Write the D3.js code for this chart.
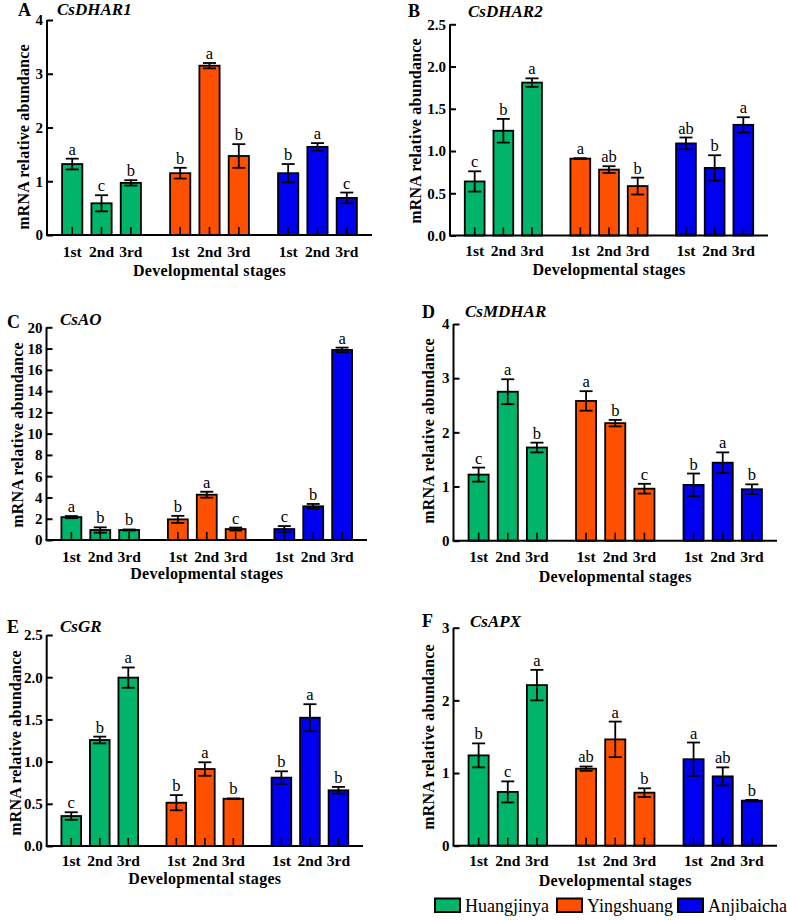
<!DOCTYPE html>
<html>
<head>
<meta charset="utf-8">
<script src="https://cdn.jsdelivr.net/npm/d3@7"></script>
<style>
  body { margin: 0; background: #fff; }
  svg { display: block; font-family: "Liberation Serif", "Times New Roman", serif; }
</style>
</head>
<body>
<svg id="chart" width="787" height="920"></svg>
<script>
// ---- data ----
const cultivars = ["Huangjinya", "Yingshuang", "Anjibaicha"];
const stages = ["1st", "2nd", "3rd"];
const colors = ["#00B46A", "#FF5000", "#0000F0"];

const genes = ["CsDHAR1", "CsDHAR2", "CsAO", "CsMDHAR", "CsGR", "CsAPX"];
const panelLetters = ["A", "B", "C", "D", "E", "F"];

// mean values: [Huangjinya x3, Yingshuang x3, Anjibaicha x3]
const meanDHAR1 = [1.32, 0.59, 0.97, 1.15, 3.15, 1.47, 1.15, 1.64, 0.69];
const errDHAR1  = [0.10, 0.15, 0.05, 0.10, 0.05, 0.22, 0.17, 0.07, 0.10];
const sigDHAR1  = ["a", "c", "b", "b", "a", "b", "b", "a", "c"];

const meanDHAR2 = [0.64, 1.24, 1.81, 0.91, 0.78, 0.585, 1.09, 0.80, 1.31];
const errDHAR2  = [0.12, 0.14, 0.05, 0.005, 0.04, 0.10, 0.07, 0.15, 0.09];
const sigDHAR2  = ["c", "b", "a", "a", "ab", "b", "ab", "b", "a"];

const meanAO = [2.15, 0.94, 0.94, 1.94, 4.26, 1.03, 1.03, 3.17, 17.87];
const errAO  = [0.10, 0.25, 0.05, 0.33, 0.28, 0.14, 0.28, 0.22, 0.22];
const sigAO  = ["a", "b", "b", "b", "a", "c", "c", "b", "a"];

const meanMDHAR = [1.22, 2.75, 1.72, 2.58, 2.17, 0.96, 1.03, 1.44, 0.95];
const errMDHAR  = [0.13, 0.23, 0.09, 0.18, 0.06, 0.09, 0.21, 0.19, 0.09];
const sigMDHAR  = ["c", "a", "b", "a", "b", "c", "b", "a", "b"];

const meanGR = [0.355, 1.256, 1.995, 0.513, 0.912, 0.56, 0.81, 1.52, 0.66];
const errGR  = [0.045, 0.04, 0.12, 0.09, 0.08, 0.003, 0.075, 0.16, 0.04];
const sigGR  = ["c", "b", "a", "b", "a", "b", "b", "a", "b"];

const meanAPX = [1.243, 0.74, 2.21, 1.06, 1.463, 0.73, 1.19, 0.954, 0.62];
const errAPX  = [0.165, 0.145, 0.21, 0.03, 0.245, 0.06, 0.23, 0.124, 0.01];
const sigAPX  = ["b", "c", "a", "ab", "a", "b", "a", "ab", "b"];

const yMaxs = [4, 2.5, 20, 4, 2.5, 3];
const yStepList = [1, 0.5, 2, 1, 0.5, 1];
const yFormats = ["d", ".1f", "d", "d", ".1f", "d"];

const allMeans = [meanDHAR1, meanDHAR2, meanAO, meanMDHAR, meanGR, meanAPX];
const allErrs = [errDHAR1, errDHAR2, errAO, errMDHAR, errGR, errAPX];
const allSigs = [sigDHAR1, sigDHAR2, sigAO, sigMDHAR, sigGR, sigAPX];

const yLabel = "mRNA relative abundance";
const xLabel = "Developmental stages";

// ---- layout (positions only) ----
const layout = [
  {ax: 47,    y0: 235,   yTop: 20,    xEnd: 372, letter: [18, 16],  title: [57, 15],  tickY: 257, devY: 276, ylx: 29,  yly: 137},
  {ax: 450,   y0: 235.5, yTop: 24.3,  xEnd: 768, letter: [408, 17], title: [468, 17], tickY: 256, devY: 275, ylx: 421, yly: 131},
  {ax: 46.5,  y0: 540,   yTop: 327.3, xEnd: 367, letter: [7, 328],  title: [60, 325], tickY: 562, devY: 579, ylx: 23,  yly: 435},
  {ax: 453.5, y0: 540.7, yTop: 324,   xEnd: 777, letter: [422, 318],title: [465, 317],tickY: 562, devY: 582, ylx: 434, yly: 431},
  {ax: 46.7,  y0: 846,   yTop: 635,   xEnd: 363, letter: [7, 633],  title: [60, 632], tickY: 866, devY: 884, ylx: 21,  yly: 743},
  {ax: 453.5, y0: 845.7, yTop: 627.7, xEnd: 777, letter: [422, 627],title: [470, 627],tickY: 866, devY: 886, ylx: 434, yly: 737}
];

const svg = d3.select("#chart");

genes.forEach((gene, pi) => {
  const L = layout[pi];
  const g = svg.append("g");
  const means = allMeans[pi], errs = allErrs[pi], sigs = allSigs[pi];

  const y = d3.scaleLinear().domain([0, yMaxs[pi]]).range([L.y0, L.yTop]);
  const x0 = d3.scaleBand().domain(cultivars).range([L.ax, L.xEnd])
    .paddingInner(0.27).paddingOuter(0.14).align(0.5);
  const x1 = d3.scaleBand().domain(stages).range([0, x0.bandwidth()])
    .paddingInner(0.31).paddingOuter(0);

  const rows = [];
  cultivars.forEach((c, ci) => stages.forEach((s, si) => {
    const k = ci * 3 + si;
    rows.push({c, ci, s, m: means[k], e: errs[k], sig: sigs[k]});
  }));

  // bars
  g.selectAll("rect.bar").data(rows).join("rect")
    .attr("class", "bar")
    .attr("x", d => x0(d.c) + x1(d.s))
    .attr("width", x1.bandwidth())
    .attr("y", d => y(d.m))
    .attr("height", d => y(0) - y(d.m))
    .attr("fill", d => colors[d.ci])
    .attr("stroke", "#000")
    .attr("stroke-width", 1.8);

  const cx = d => x0(d.c) + x1(d.s) + x1.bandwidth() / 2;

  // x inner ticks at bar centres
  g.selectAll("line.xt").data(rows).join("line")
    .attr("x1", cx).attr("x2", cx)
    .attr("y1", y(0)).attr("y2", y(0) - 8)
    .attr("stroke", "#000").attr("stroke-width", 1.6);

  // error bars
  const eb = g.selectAll("g.eb").data(rows).join("g");
  eb.append("line")
    .attr("x1", cx).attr("x2", cx)
    .attr("y1", d => y(d.m - d.e)).attr("y2", d => y(d.m + d.e))
    .attr("stroke", "#000").attr("stroke-width", 1.8);
  eb.append("line")
    .attr("x1", d => cx(d) - 6.5).attr("x2", d => cx(d) + 6.5)
    .attr("y1", d => y(d.m + d.e)).attr("y2", d => y(d.m + d.e))
    .attr("stroke", "#000").attr("stroke-width", 1.8);
  eb.append("line")
    .attr("x1", d => cx(d) - 6.5).attr("x2", d => cx(d) + 6.5)
    .attr("y1", d => y(d.m - d.e)).attr("y2", d => y(d.m - d.e))
    .attr("stroke", "#000").attr("stroke-width", 1.8);

  // significance letters
  g.selectAll("text.sig").data(rows).join("text")
    .attr("x", cx)
    .attr("y", d => y(d.m + d.e) - 4)
    .attr("text-anchor", "middle")
    .attr("font-size", 16.5)
    .text(d => d.sig);

  // y axis
  const ticks = d3.range(0, yMaxs[pi] + 1e-9, yStepList[pi]);
  const yAxis = d3.axisLeft(y).tickValues(ticks).tickSize(-6).tickPadding(4)
    .tickFormat(d3.format(yFormats[pi]));
  const ya = g.append("g").attr("transform", `translate(${L.ax},0)`).call(yAxis);
  ya.select(".domain").attr("d", `M0,${L.yTop}V${L.y0}`).attr("stroke-width", 2);
  ya.selectAll(".tick line").attr("stroke-width", 2);
  ya.selectAll(".tick text")
    .attr("font-family", "Liberation Serif, serif")
    .attr("font-weight", "bold").attr("font-size", 15).attr("fill", "#000");

  // x axis line
  g.append("line")
    .attr("x1", L.ax - 1).attr("x2", L.xEnd)
    .attr("y1", y(0)).attr("y2", y(0))
    .attr("stroke", "#000").attr("stroke-width", 2);

  // x tick labels
  g.selectAll("text.xl").data(rows).join("text")
    .attr("x", cx).attr("y", L.tickY)
    .attr("text-anchor", "middle")
    .attr("font-weight", "bold").attr("font-size", 15.5)
    .text(d => d.s);

  // x title
  g.append("text")
    .attr("x", (L.ax + L.xEnd) / 2).attr("y", L.devY)
    .attr("text-anchor", "middle")
    .attr("font-weight", "bold").attr("font-size", 16)
    .attr("letter-spacing", 0.3)
    .text(xLabel);

  // y title
  g.append("text")
    .attr("transform", `translate(${L.ylx},${L.yly}) rotate(-90)`)
    .attr("text-anchor", "middle")
    .attr("font-weight", "bold").attr("font-size", 16)
    .attr("letter-spacing", 0.2)
    .text(yLabel);

  // panel letter and gene name
  g.append("text")
    .attr("x", L.letter[0]).attr("y", L.letter[1])
    .attr("font-weight", "bold").attr("font-size", 18)
    .text(panelLetters[pi]);
  g.append("text")
    .attr("x", L.title[0]).attr("y", L.title[1])
    .attr("font-weight", "bold").attr("font-style", "italic").attr("font-size", 17)
    .text(gene);
});

// legend
const legendX = [435, 557, 678];
const leg = svg.append("g");
cultivars.forEach((c, i) => {
  leg.append("rect")
    .attr("x", legendX[i]).attr("y", 898.5)
    .attr("width", 25).attr("height", 13.5)
    .attr("fill", colors[i]).attr("stroke", "#000").attr("stroke-width", 2);
  leg.append("text")
    .attr("x", legendX[i] + 30).attr("y", 912)
    .attr("font-size", 18)
    .text(c);
});
</script>
</body>
</html>
